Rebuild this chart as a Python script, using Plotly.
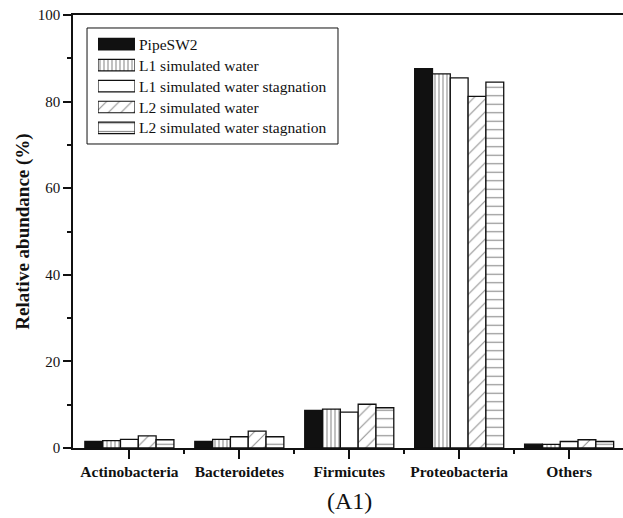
import plotly.graph_objects as go

# Phylum-level composition of the bacterial communities
categories = ["Actinobacteria", "Bacteroidetes", "Firmicutes", "Proteobacteria", "Others"]
series_names = [
    "PipeSW2",
    "L1 simulated water",
    "L1 simulated water stagnation",
    "L2 simulated water",
    "L2 simulated water stagnation",
]
pipesw2 = [1.5, 1.5, 8.7, 87.6, 0.9]
l1_water = [1.7, 2.0, 9.0, 86.4, 0.85]
l1_stagnation = [2.0, 2.6, 8.3, 85.5, 1.5]
l2_water = [2.8, 3.9, 10.1, 81.2, 1.9]
l2_stagnation = [1.9, 2.6, 9.3, 84.5, 1.5]
y_tick_values = [0, 20, 40, 60, 80, 100]

series_values = [pipesw2, l1_water, l1_stagnation, l2_water, l2_stagnation]

INK = "#111111"
serif = "Liberation Serif, Times New Roman, serif"


def pattern(shape, size, solidity):
    return dict(shape=shape, size=size, solidity=solidity, fgcolor="#222222",
                bgcolor="white", fillmode="overlay")


# Black-and-white fill styles, one per series
styles = [
    dict(color=INK),
    dict(color="white", pattern=pattern("|", 4, 0.28)),
    dict(color="white"),
    dict(color="white", pattern=pattern("/", 9, 0.12)),
    dict(color="white", pattern=pattern("-", 8.5, 0.14)),
]

positions = list(range(len(categories)))
legend_rows = list(range(len(series_names)))

fig = go.Figure()
for name, vals, st in zip(series_names, series_values, styles):
    marker = dict(st, line=dict(color=INK, width=1.3))
    fig.add_trace(go.Bar(x=positions, y=vals, name=name, marker=marker, showlegend=False))

# Key: one wide swatch per series on a small inset axis, labelled with annotations
for row, name, st in zip(legend_rows, series_names, styles):
    marker = dict(st, line=dict(color=INK, width=1.2))
    fig.add_trace(go.Bar(
        x=[1], y=[row], base=0, width=0.55, orientation="h", name=name,
        marker=marker, showlegend=False, hoverinfo="name",
        xaxis="x2", yaxis="y2",
    ))
    fig.add_annotation(
        text=name, xref="paper", yref="y2", x=0.1164, y=row,
        xanchor="left", yanchor="middle", showarrow=False,
        font=dict(family=serif, size=15.5, color=INK),
    )

fig.add_shape(
    type="rect", xref="paper", yref="paper",
    x0=0.0255, x1=0.4818, y0=0.7021, y1=0.97,
    line=dict(color=INK, width=1), fillcolor="rgba(0,0,0,0)", layer="below",
)

fig.update_layout(
    width=623,
    height=518,
    margin=dict(l=73, r=0, t=15, b=70),
    paper_bgcolor="white",
    plot_bgcolor="white",
    barmode="group",
    bargap=0.19,
    bargroupgap=0,
    font=dict(family=serif, color=INK, size=14),
    showlegend=False,
    xaxis=dict(
        range=[-0.513, 4.49],
        tickmode="array",
        tickvals=positions,
        ticktext=["<b>%s</b>" % c for c in categories],
        tickfont=dict(family=serif, size=15.5, color=INK),
        ticks="outside", ticklen=9, tickwidth=1.5, tickcolor=INK,
        minor=dict(tickvals=[p + 0.5 for p in positions], ticks="outside", ticklen=4, tickwidth=1.5, tickcolor=INK),
        showline=True, linecolor=INK, linewidth=1.5, mirror=True,
        showgrid=False, zeroline=False,
    ),
    yaxis=dict(
        range=[0, 100],
        tickmode="array",
        tickvals=y_tick_values,
        tickfont=dict(family=serif, size=15, color=INK),
        ticks="outside", ticklen=8, tickwidth=1.5, tickcolor=INK,
        minor=dict(dtick=10, tick0=0, ticks="outside", ticklen=4, tickwidth=1.5, tickcolor=INK),
        showline=True, linecolor=INK, linewidth=1.5,
        showgrid=False, zeroline=False,
        title=dict(text="<b>Relative abundance (%)</b>", font=dict(family=serif, size=19, color=INK), standoff=3),
    ),
    xaxis2=dict(domain=[0.04545, 0.1127], range=[0, 1], anchor="y2", visible=False, fixedrange=True),
    yaxis2=dict(domain=[0.715, 0.9567], range=[4.5, -0.5], anchor="x2", visible=False, fixedrange=True),
)

fig.add_annotation(
    text="(A1)", xref="paper", yref="paper", x=0.502, y=-0.1224,
    xanchor="center", yanchor="middle", showarrow=False,
    font=dict(family=serif, size=24, color=INK),
)

fig.write_html("out.html")
